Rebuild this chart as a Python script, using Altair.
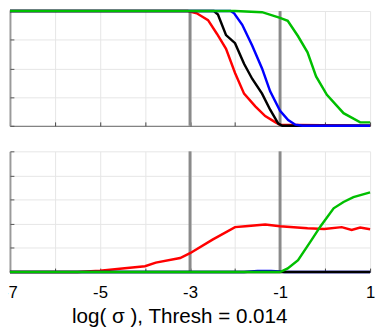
import altair as alt
import pandas as pd

# ---------------- data ----------------
X_TICKS = [-7, -6, -5, -4, -3, -2, -1, 0, 1]
TOP_Y_TICKS = [0, 0.25, 0.5, 0.75, 1.0]
BOT_Y_TICKS = [0, 0.1, 0.2, 0.3, 0.4, 0.5]
VLINES = [-3, -1]
X_TITLE = "log( σ ), Thresh = 0.014"

top_red_x = [-7, -3.05, -2.85, -2.6, -2.4, -2.2, -2.0, -1.8, -1.55, -1.33, -1.1, -1.0, -0.6, 1]
top_red_y = [1, 1, 0.98, 0.92, 0.8, 0.67, 0.46, 0.28, 0.17, 0.085, 0.03, 0.01, 0.008, 0.0]
top_black_x = [-7, -2.47, -2.38, -2.2, -2.0, -1.8, -1.62, -1.4, -1.22, -1.04, -0.95, 1]
top_black_y = [1, 1, 0.97, 0.79, 0.72, 0.54, 0.41, 0.28, 0.14, 0.02, 0, 0]
top_blue_x = [-7, -2.1, -2.02, -1.84, -1.62, -1.4, -1.22, -1.0, -0.82, -0.66, -0.5, 1]
top_blue_y = [1, 1, 0.98, 0.88, 0.70, 0.50, 0.30, 0.13, 0.05, 0.01, 0, 0]
top_green_x = [-7, -2.0, -1.4, -1.0, -0.83, -0.6, -0.39, -0.2, 0.04, 0.41, 0.78, 1]
top_green_y = [1, 1, 0.99, 0.94, 0.915, 0.78, 0.64, 0.43, 0.27, 0.11, 0.03, 0.03]

bot_red_x = [-7, -5.5, -5.0, -4.45, -4.0, -3.76, -3.22, -3.0, -2.5, -2.0, -1.77, -1.33,
             -1.0, -0.39, -0.02, 0.37, 0.59, 0.78, 1]
bot_red_y = [0, 0.0, 0.005, 0.016, 0.024, 0.039, 0.058, 0.078, 0.134, 0.186, 0.19, 0.197,
             0.19, 0.181, 0.178, 0.186, 0.174, 0.184, 0.177]
bot_black_x = [-7, 1]
bot_black_y = [0, 0]
bot_blue_x = [-7, -1.8, -1.5, -1.2, -1.0, -0.9, 1]
bot_blue_y = [0, 0, 0.004, 0.004, 0.002, 0, 0]
bot_green_x = [-7, -1.0, -0.83, -0.6, -0.31, -0.1, 0.19, 0.41, 0.63, 1]
bot_green_y = [0, 0, 0.015, 0.049, 0.13, 0.19, 0.264, 0.29, 0.31, 0.33]

COLORS = {"red": "#ff0000", "black": "#000000", "blue": "#0000ff", "green": "#00bf00"}

W = 367
H_TOP = 117
H_BOT = 123
FONT = "Liberation Sans"


def df(xs, ys):
    return pd.DataFrame({"x": xs, "y": ys})


def panel(series, ydomain, yticks, height, bottom):
    xs = alt.Scale(domain=[-7, 1], nice=False, zero=False)
    ys = alt.Scale(domain=ydomain, nice=False, zero=False)

    xaxis_kw = dict(orient="bottom", values=X_TICKS, grid=True, gridColor="#e6e6e6",
                    gridWidth=1, ticks=False, tickSize=0, domain=True,
                    domainColor="#666666", domainWidth=1, title=None)
    if bottom:
        xaxis_kw.update(labels=True, labelExpr="datum.value % 2 != 0 ? '' + datum.value : ''",
                        labelFont=FONT, labelFontSize=17, labelColor="#000000",
                        labelPadding=26, labelBaseline="alphabetic", labelAlign="center",
                        title=X_TITLE, titleFont=FONT, titleFontSize=21,
                        titleFontWeight="normal", titleColor="#000000",
                        titleX=172.5, titleY=51, titleBaseline="alphabetic",
                        titleAlign="center")
    else:
        xaxis_kw.update(labels=False)
    xaxis = alt.Axis(**xaxis_kw)
    yaxis = alt.Axis(orient="left", values=yticks, grid=True, gridColor="#e6e6e6",
                     gridWidth=1, ticks=False, tickSize=0, labels=False, domain=True,
                     domainColor="#9a9a9a", domainWidth=2, title=None)

    # inward tick marks (secondary axes moved onto the opposite edge)
    tick_x = alt.Axis(orient="top", offset=-height, values=X_TICKS, ticks=True, tickSize=4,
                      tickColor="#444444", tickWidth=1, labels=False, domain=False,
                      grid=False, title=None)
    tick_y = alt.Axis(orient="right", offset=-W, values=yticks, ticks=True, tickSize=4,
                      tickColor="#555555", tickWidth=1, labels=False, domain=False,
                      grid=False, title=None)

    vl = alt.Chart(pd.DataFrame({"v": VLINES})).mark_rule(
        color="#8a8a8a", strokeWidth=3
    ).encode(x=alt.X("v:Q", scale=xs, axis=None))

    layers = [vl]
    n = len(series)
    for i, (name, xv, yv) in enumerate(series):
        if i == 0:
            ax_x, ax_y = xaxis, yaxis
        elif i == n - 1:
            ax_x, ax_y = tick_x, tick_y
        else:
            ax_x, ax_y = None, None
        layers.append(
            alt.Chart(df(xv, yv)).mark_line(color=COLORS[name], strokeWidth=2.5).encode(
                x=alt.X("x:Q", scale=xs, axis=ax_x),
                y=alt.Y("y:Q", scale=ys, axis=ax_y),
            )
        )
    return alt.layer(*layers).resolve_axis(x="independent", y="independent").properties(
        width=W, height=height
    )


top_series = [
    ("red", top_red_x, top_red_y),
    ("black", top_black_x, top_black_y),
    ("blue", top_blue_x, top_blue_y),
    ("green", top_green_x, top_green_y),
]
bot_series = [
    ("red", bot_red_x, bot_red_y),
    ("blue", bot_blue_x, bot_blue_y),
    ("black", bot_black_x, bot_black_y),
    ("green", bot_green_x, bot_green_y),
]

top = panel(top_series, [0, 1], TOP_Y_TICKS, H_TOP, False)
bot = panel(bot_series, [0, 0.5], BOT_Y_TICKS, H_BOT, True)

chart = alt.vconcat(top, bot, spacing=26, bounds="flush").properties(
    padding={"left": -6, "top": -5, "right": 0, "bottom": 0}
).configure_view(stroke=None)

chart.save("out.html", embed_options={"renderer": "svg", "actions": False})
